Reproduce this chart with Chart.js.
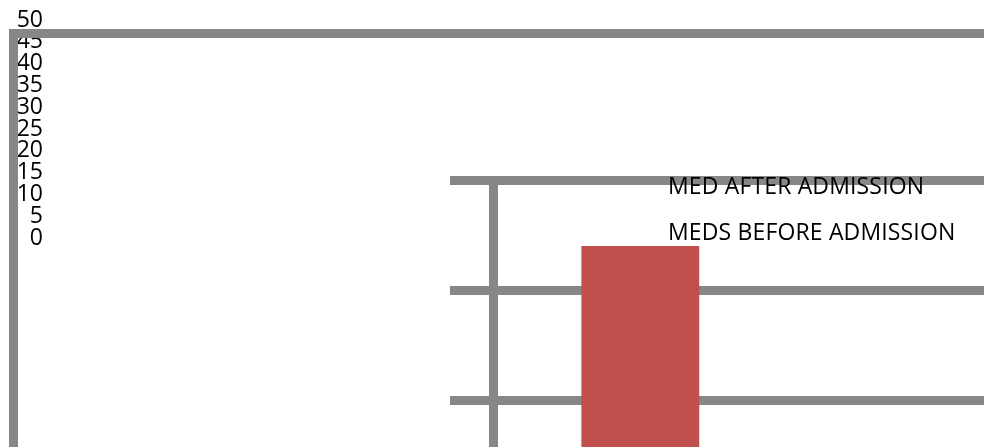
<!DOCTYPE html>
<html>
<head>
<meta charset="utf-8">
<script src="https://cdn.jsdelivr.net/npm/chart.js@4/dist/chart.umd.min.js"></script>
<style>
    body { margin: 0; background: #fff; }
    #wrap { position: relative; width: 984px; height: 447px; overflow: hidden; background: #fff; }
    #wrap canvas { position: absolute; left: 0; top: 0; }
    #legend { position: absolute; left: 668px; top: 162px; font-family: 'Open Sans', sans-serif; font-size: 23px; letter-spacing: 0.15px; line-height: 46px; color: #000; white-space: nowrap; }
</style>
</head>
<body>
<div id="wrap">
    <canvas id="barChart" width="984" height="760"></canvas>
    <canvas id="tickChart" width="984" height="447"></canvas>
    <canvas id="frameChart" width="984" height="447"></canvas>
    <div id="legend"></div>
</div>
<script>
// Data
const categories = [''];
const seriesNames = ['MEDS BEFORE ADMISSION', 'MED AFTER ADMISSION'];
const medsBefore = [44];
const medAfter = [0];
const tickMin = 0;
const tickMax = 50;
const tickStep = 5;

const GRAY = '#878787';
const LINE = 9;

// Bar chart with the wide grid lines
new Chart(document.getElementById('barChart').getContext('2d'), {
    type: 'bar',
    data: {
        labels: categories,
        datasets: [
            { label: seriesNames[0], data: medsBefore, backgroundColor: '#C0504D', borderWidth: 0 },
            { label: seriesNames[1], data: medAfter, backgroundColor: '#4F81BD', borderWidth: 0 }
        ]
    },
    options: {
        responsive: false,
        animation: false,
        devicePixelRatio: 1,
        categoryPercentage: 0.8,
        barPercentage: 0.6,
        layout: { padding: { left: 450, top: 180, right: 0, bottom: 30 } },
        plugins: { legend: { display: false }, tooltip: { enabled: false } },
        scales: {
            x: { display: false },
            y: {
                min: tickMin,
                max: tickMax,
                ticks: { display: false, stepSize: 10 },
                grid: { color: GRAY, lineWidth: LINE, tickLength: 43, drawTicks: true },
                border: { color: GRAY, width: LINE }
            }
        }
    }
});

// Tick labels squeezed at the top left
new Chart(document.getElementById('tickChart').getContext('2d'), {
    type: 'bar',
    data: { labels: categories, datasets: [] },
    options: {
        responsive: false,
        animation: false,
        devicePixelRatio: 1,
        layout: { padding: { left: 0, top: 20, right: 0, bottom: 209 } },
        plugins: { legend: { display: false }, tooltip: { enabled: false } },
        scales: {
            x: { display: false },
            y: {
                display: true,
                min: tickMin,
                max: tickMax,
                afterFit: function (scale) { scale.width = 43; },
                ticks: {
                    stepSize: tickStep,
                    autoSkip: false,
                    padding: 0,
                    color: '#000',
                    font: { family: 'Open Sans', size: 23, lineHeight: 1 }
                },
                grid: { display: false, drawTicks: false },
                border: { display: false }
            }
        }
    }
});

// Outer frame lines (top and left)
new Chart(document.getElementById('frameChart').getContext('2d'), {
    type: 'line',
    data: { datasets: [] },
    options: {
        responsive: false,
        animation: false,
        devicePixelRatio: 1,
        layout: { padding: { left: 13, top: 33, right: 0, bottom: 0 } },
        plugins: { legend: { display: false }, tooltip: { enabled: false } },
        scales: {
            x: {
                type: 'linear', position: 'top', display: true, min: 0, max: 1,
                ticks: { display: false },
                grid: { display: false, drawTicks: false },
                border: { color: GRAY, width: LINE }
            },
            y: {
                type: 'linear', position: 'left', display: true, min: 0, max: 1,
                ticks: { display: false },
                grid: { display: false, drawTicks: false },
                border: { color: GRAY, width: LINE }
            }
        }
    }
});

// Legend text, listed in reverse series order like the original
const legend = document.getElementById('legend');
seriesNames.slice().reverse().forEach(name => {
    const div = document.createElement('div');
    div.textContent = name;
    legend.appendChild(div);
});
</script>
</body>
</html>
